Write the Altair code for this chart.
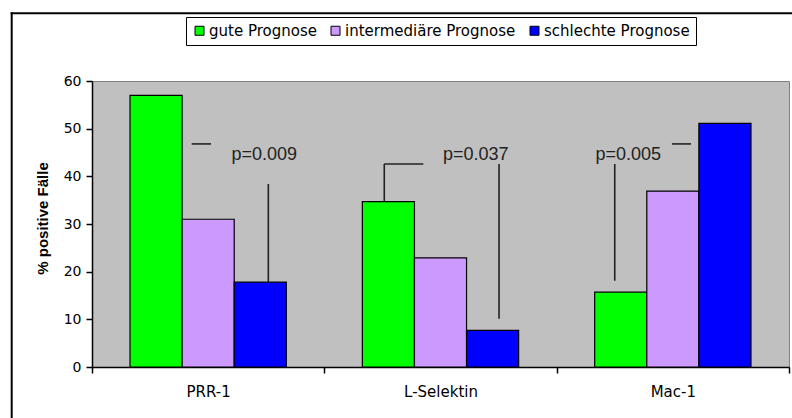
import altair as alt
import pandas as pd

categories = ["PRR-1", "L-Selektin", "Mac-1"]
series = ["gute Prognose", "intermediäre Prognose", "schlechte Prognose"]
gute = [57.0, 34.7, 15.7]
intermediaer = [31.0, 22.9, 36.9]
schlecht = [17.8, 7.7, 51.1]
colors = ["#00FF00", "#CC99FF", "#0000FF"]

# annotation lines (x in category units 0..3, y in %)
seg_x = [0.429, 0.759, 1.258, 1.258, 1.752, 2.250, 2.496]
seg_x2 = [0.512, 0.759, 1.426, 1.258, 1.752, 2.250, 2.578]
seg_y = [46.8, 38.4, 42.6, 42.6, 42.6, 42.6, 46.8]
seg_y2 = [46.8, 17.8, 42.6, 34.7, 10.1, 18.1, 46.8]

p_labels = ["p=0.009", "p=0.037", "p=0.005"]
p_x = [0.741, 1.652, 2.308]
p_y = [43.4, 43.4, 43.4]

rows = []
for s, vals in zip(series, [gute, intermediaer, schlecht]):
    for c, v in zip(categories, vals):
        rows.append({"Kategorie": c, "Serie": s, "Wert": v})
bars_df = pd.DataFrame(rows)
seg_df = pd.DataFrame({"x": seg_x, "x2": seg_x2, "y": seg_y, "y2": seg_y2})
txt_df = pd.DataFrame({"label": p_labels, "x": p_x, "y": p_y})

yscale = alt.Scale(domain=[0, 60], nice=False)

bars = alt.Chart(bars_df).mark_bar(stroke="black", strokeWidth=1.2).encode(
    x=alt.X("Kategorie:N", sort=categories,
            scale=alt.Scale(paddingInner=0, paddingOuter=0),
            axis=alt.Axis(title=None, labelAngle=0, tickBand="extent",
                          labelFont="DejaVu Sans", labelFontSize=15, labelColor="black",
                          domainColor="black", domainWidth=1.5, tickColor="black",
                          tickWidth=1.5, tickSize=6, labelPadding=11)),
    xOffset=alt.XOffset("Serie:N", sort=series,
                        scale=alt.Scale(paddingInner=0, paddingOuter=0.73)),
    y=alt.Y("Wert:Q", scale=yscale,
            axis=alt.Axis(title="% positive Fälle", values=[0, 10, 20, 30, 40, 50, 60],
                          grid=False, labelFont="DejaVu Sans", labelFontSize=14,
                          labelColor="black", domainColor="black", domainWidth=1.5,
                          tickColor="black", tickWidth=1.5, tickSize=6, labelPadding=5,
                          titleFont="Liberation Sans", titleFontSize=15,
                          titleFontWeight="bold", titleColor="black",
                          titleX=-42, titleY=137, titleBaseline="bottom",
                          titleAlign="center", titleAngle=-90)),
    color=alt.Color("Serie:N", sort=series,
                    scale=alt.Scale(domain=series, range=colors),
                    legend=alt.Legend(title=None, orient="none", legendX=94, legendY=-64,
                                      direction="horizontal", columns=3,
                                      symbolType="square", symbolSize=81,
                                      symbolStrokeColor="black", symbolStrokeWidth=1,
                                      symbolOpacity=1,
                                      labelFont="DejaVu Sans", labelFontSize=15,
                                      labelColor="black", labelOffset=2, labelLimit=400,
                                      columnPadding=11, padding=6,
                                      strokeColor="black", fillColor="white")),
)

xq = alt.Scale(domain=[0, 3], nice=False, zero=False)

segs = alt.Chart(seg_df).mark_rule(color="#222222", strokeWidth=1.6).encode(
    x=alt.X("x:Q", scale=xq, axis=None),
    x2="x2:Q",
    y=alt.Y("y:Q", scale=yscale),
    y2="y2:Q",
)

texts = alt.Chart(txt_df).mark_text(
    font="Liberation Sans", fontSize=18, color="#222222",
    baseline="alphabetic", align="center"
).encode(
    x=alt.X("x:Q", scale=xq, axis=None),
    y=alt.Y("y:Q", scale=yscale),
    text="label:N",
)

frame_left = alt.Chart(pd.DataFrame({"k": [0]})).mark_rule(
    color="black", strokeWidth=2, clip=False
).encode(x=alt.value(-80.3), y=alt.value(-68.7), y2=alt.value(400))

frame_top = alt.Chart(pd.DataFrame({"k": [0]})).mark_rule(
    color="black", strokeWidth=2, clip=False
).encode(x=alt.value(-81.3), x2=alt.value(720), y=alt.value(-67.7))

chart = alt.layer(bars, segs, texts, frame_left, frame_top).resolve_scale(
    x="independent"
).properties(
    width=697, height=286,
    padding={"left": 92, "top": 81, "right": 3, "bottom": 51},
    autosize=alt.AutoSizeParams(type="none"),
    background="white",
).configure_view(stroke="#808080", strokeWidth=1, fill="#C0C0C0")

chart.save("out.html", embed_options={"renderer": "svg", "actions": False})
